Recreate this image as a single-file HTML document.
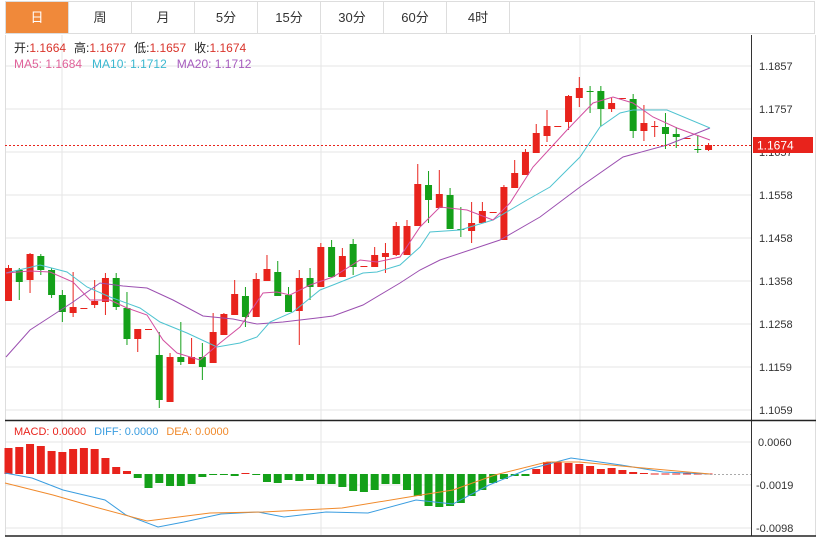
<!DOCTYPE html>
<html><head><meta charset="utf-8">
<style>
body{margin:0;background:#fff;width:822px;height:539px;overflow:hidden;font-family:"Liberation Sans","Noto Sans CJK SC",sans-serif;}
#tabs{position:absolute;left:5px;top:1px;width:810px;height:33px;border:1px solid #ddd;box-sizing:border-box;}
.t{position:absolute;top:0;height:31px;line-height:31px;text-align:center;font-size:13px;color:#333;border-right:1px solid #ddd;box-sizing:border-box;}
svg{position:absolute;left:0;top:0;}
</style></head><body>
<div id="tabs">
<div class="t" style="left:0;width:63px;background:#f0893a;color:#fff;">日</div>
<div class="t" style="left:63px;width:63px">周</div>
<div class="t" style="left:126px;width:63px">月</div>
<div class="t" style="left:189px;width:63px">5分</div>
<div class="t" style="left:252px;width:63px">15分</div>
<div class="t" style="left:315px;width:63px">30分</div>
<div class="t" style="left:378px;width:63px">60分</div>
<div class="t" style="left:441px;width:63px">4时</div>
</div>
<svg width="822" height="539" id="s" font-family="Liberation Sans, Noto Sans CJK SC, sans-serif">
<g id="grid" stroke="#e6e6e6" stroke-width="1">
<line x1="62" y1="35" x2="62" y2="535"/><line x1="321" y1="35" x2="321" y2="535"/><line x1="580" y1="35" x2="580" y2="535"/>
<line x1="5" y1="66" x2="751" y2="66"/><line x1="5" y1="109" x2="751" y2="109"/><line x1="5" y1="152" x2="751" y2="152"/><line x1="5" y1="195" x2="751" y2="195"/><line x1="5" y1="238" x2="751" y2="238"/><line x1="5" y1="281" x2="751" y2="281"/><line x1="5" y1="324" x2="751" y2="324"/><line x1="5" y1="367" x2="751" y2="367"/><line x1="5" y1="410" x2="751" y2="410"/>
<line x1="5" y1="442" x2="751" y2="442"/><line x1="5" y1="485" x2="751" y2="485"/><line x1="5" y1="528" x2="751" y2="528"/>
</g>
<line x1="5.5" y1="35" x2="5.5" y2="536" stroke="#ddd"/>
<line x1="815.5" y1="35" x2="815.5" y2="536" stroke="#ddd"/>
<line x1="751.5" y1="35" x2="751.5" y2="536" stroke="#333"/>
<line x1="5" y1="420.5" x2="816" y2="420.5" stroke="#222" stroke-width="1.5"/>
<line x1="5" y1="536" x2="816" y2="536" stroke="#222" stroke-width="1.5"/>
<g id="c"></g>
<line x1="5" y1="145.5" x2="751" y2="145.5" stroke="#e8231c" stroke-dasharray="2,2"/>
<line x1="710" y1="474.5" x2="751" y2="474.5" stroke="#aaa" stroke-dasharray="2,2"/>
<rect x="753" y="137" width="60" height="16" fill="#e8231c"/>
<text x="757" y="149.5" font-size="12" fill="#fff">1.1674</text>
<g font-size="11" fill="#333">
<text x="759" y="70">1.1857</text><text x="759" y="113">1.1757</text><text x="759" y="156" fill="#333">1.1657</text>
<text x="759" y="199">1.1558</text><text x="759" y="242">1.1458</text><text x="759" y="285">1.1358</text>
<text x="759" y="328">1.1258</text><text x="759" y="371">1.1159</text><text x="759" y="414">1.1059</text>
<text x="758" y="446">0.0060</text><text x="756" y="489">-0.0019</text><text x="756" y="532">-0.0098</text>
</g>
<rect x="753" y="137" width="60" height="16" fill="#e8231c"/>
<text x="757" y="149.5" font-size="12" fill="#fff">1.1674</text>
<g font-size="12">
<text x="14" y="52"><tspan fill="#222">开:</tspan><tspan fill="#d9342b">1.1664</tspan><tspan fill="#222" dx="8">高:</tspan><tspan fill="#d9342b">1.1677</tspan><tspan fill="#222" dx="8">低:</tspan><tspan fill="#d9342b">1.1657</tspan><tspan fill="#222" dx="8">收:</tspan><tspan fill="#d9342b">1.1674</tspan></text>
<text x="14" y="68"><tspan fill="#e0629a">MA5: 1.1684</tspan><tspan fill="#3bb8d0" dx="10">MA10: 1.1712</tspan><tspan fill="#a65bbd" dx="10">MA20: 1.1712</tspan></text>
</g>
<text x="14" y="435" font-size="11"><tspan fill="#e8231c">MACD: 0.0000</tspan><tspan fill="#3a9de0" dx="8">DIFF: 0.0000</tspan><tspan fill="#f08a2c" dx="8">DEA: 0.0000</tspan></text>
</svg>
<script>
var R="#e8231c",G="#14a019";
var C=[
['r',268,301,265,301],['g',270,282,268,300],['r',254,280,253,293],['g',256,270,254,275],['g',270,295,268,298],
['g',295,312,290,322],['r',307,313,272,317],['r',308,309,308,309],['r',301,305,280,308],['r',278,302,273,315],
['g',278,307,273,310],['g',308,339,292,345],['r',329,339,329,352],['r',329,330,329,330],['g',355,400,332,408],
['r',357,402,353,402],['g',357,362,322,365],['r',357,364,338,364],['g',357,367,343,380],['r',332,363,313,363],
['r',314,335,313,335],['r',294,315,280,315],['g',296,317,287,327],['r',279,317,273,317],['r',269,281,255,281],
['g',272,296,261,296],['g',295,312,287,312],['r',278,311,270,345],['g',278,287,268,300],['r',247,287,243,287],
['g',247,277,240,277],['r',256,277,248,277],['g',244,267,239,275],['r',266,267,266,267],['r',255,267,247,267],
['r',253,257,243,273],['r',226,255,222,256],['r',226,255,220,255],['r',184,226,164,226],['g',185,200,171,223],
['r',194,208,170,208],['g',195,229,188,229],['g',229,230,207,237],['r',223,231,202,243],['r',211,223,202,223],
['r',212,213,212,213],['r',187,240,185,240],['r',173,188,160,188],['r',152,175,149,175],['r',133,153,124,153],
['r',126,136,110,142],['r',126,127,126,127],['r',96,122,95,130],['r',88,98,77,107],['g',91,92,86,113],
['g',91,109,86,126],['r',103,109,98,112],['r',98,99,98,99],['g',99,131,94,138],['r',123,131,105,141],
['r',126,127,121,137],['g',127,134,113,149],['g',134,137,127,148],['r',138,139,138,139],['g',149,150,135,153],
['r',145,150,143,151]];
var M=[448,447,444,446,451,452,449,448,449,458,467,471,478,488,483,486,486,484,477,475,474.5,476,473,475,482,483,480,481,480,484,484,487,491,492,490,484,484,490,496,506,507,506,503,496,490,483,479,476,476,469,462,462,463,464,466,469,468,470,472,473,473.5,473.5,473.5,473.5,473.5,473.5];
var h="";
for(var i=0;i<C.length;i++){var x=8.5+i*10.77,c=C[i],col=c[0]=='r'?R:G;
h+='<line x1="'+x+'" y1="'+c[3]+'" x2="'+x+'" y2="'+c[4]+'" stroke="'+col+'"/>';
h+='<rect x="'+(x-3.5)+'" y="'+c[1]+'" width="7" height="'+Math.max(1,c[2]-c[1])+'" fill="'+col+'"/>';}
for(var i=0;i<M.length;i++){var x=8.5+i*10.77,y=M[i],z=474;var col=y<z?R:G;
h+='<rect x="'+(x-4)+'" y="'+Math.min(y,z)+'" width="8" height="'+Math.max(1,Math.abs(y-z))+'" fill="'+col+'"/>';}
function pl(p,c){return '<polyline fill="none" stroke="'+c+'" stroke-width="1" points="'+p+'"/>';}
h+=pl("6,357 30,330 50,317 73,302 100,283 123,286 147,288 173,300 203,316 233,319 257,324 283,322 317,318 333,316 363,305 400,283 420,270 440,260 500,240 540,217 580,187 623,157 667,145 710,128","#9b4fb0");
h+=pl("6,273 40,265 67,272 87,287 110,297 140,308 160,322 187,333 217,347 240,343 257,337 270,322 293,312 320,290 333,285 363,273 377,272 400,265 420,247 430,232 460,230 493,220 527,200 550,187 580,157 600,127 620,113 633,110 667,110 710,128","#4fc3d0");
h+=pl("6,273 30,271 50,272 73,282 90,300 110,300 127,308 147,315 163,340 177,353 200,360 220,343 240,327 263,293 277,292 290,295 310,285 333,277 360,260 377,262 400,257 420,227 440,207 467,210 493,220 510,203 533,167 567,130 593,103 613,97 633,103 653,117 677,128 710,140","#d24fa0");
h+=pl("5,473 32,478 63,490 105,500 126,515 158,527 184,522 221,514 258,512 284,517 326,512 368,513 416,500 453,504 489,485 526,470 571,458 621,465 663,472 710,474","#3a9de0");
h+=pl("5,483 53,495 95,507 147,521 210,513 263,512 342,508 421,495 453,490 495,475 547,462 579,462 632,467 710,474","#f08a2c");
document.getElementById('c').innerHTML=h;
</script>
</body></html>
